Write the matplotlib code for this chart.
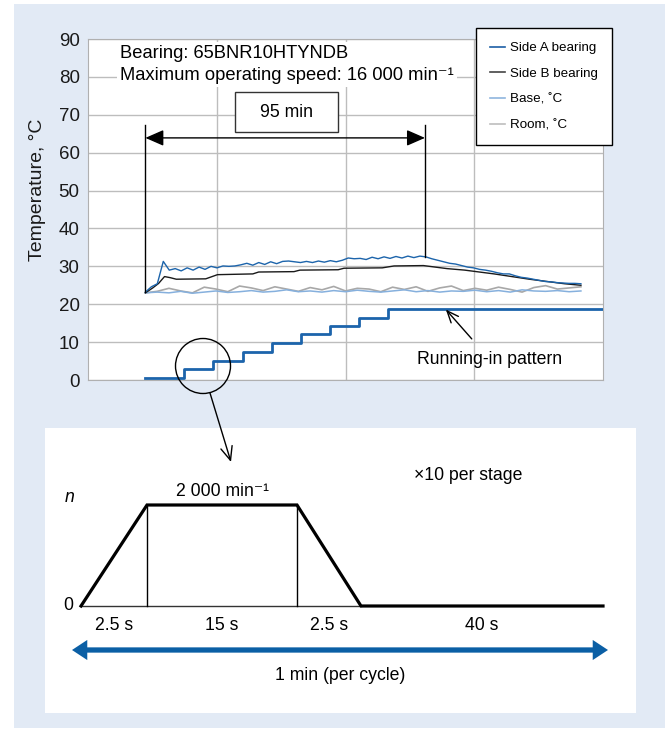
import numpy as np
import matplotlib
matplotlib.use('Agg')
import matplotlib.pyplot as plt
from matplotlib.patches import Rectangle, Circle
from matplotlib.lines import Line2D
from matplotlib.font_manager import FontProperties

plt.rcParams['font.family'] = ['Liberation Sans', 'DejaVu Sans']

# ---------------- data ----------------
side_a_t = np.linspace(19.5, 167.5, 74)
side_a = [23.2, 24.6, 25.4, 31.3, 29.0, 29.4, 28.8, 29.6, 29.0, 29.8,
          29.2, 30.0, 29.6, 30.1, 30.0, 30.1, 30.4, 30.8, 30.3, 31.0,
          30.5, 31.2, 30.7, 31.3, 31.4, 31.2, 31.0, 31.3, 31.0, 31.4,
          31.1, 31.5, 31.2, 31.6, 32.2, 32.0, 32.1, 31.8, 32.4, 32.0,
          32.5, 32.1, 32.6, 32.2, 32.7, 32.3, 32.7, 32.5, 32.0, 31.6,
          31.2, 30.8, 30.6, 30.2, 29.8, 29.6, 29.2, 29.0, 28.7, 28.3,
          28.0, 28.0, 27.5, 27.1, 26.9, 26.6, 26.3, 26.0, 25.9, 25.7,
          25.6, 25.5, 25.5, 25.4]

side_b_t = [19.5, 22, 24, 26, 28, 30, 40, 44, 56, 58, 70, 72, 85, 87,
            100, 104, 114, 118, 122, 128, 132, 138, 144, 150, 156, 162, 167.5]
side_b = [23.0, 24.3, 25.5, 27.3, 27.0, 26.6, 26.7, 27.8, 28.0, 28.5,
          28.6, 29.0, 29.1, 29.5, 29.6, 30.1, 30.2, 29.8, 29.4, 29.0,
          28.6, 28.0, 27.3, 26.6, 26.0, 25.4, 25.0]

env_t = np.linspace(19.5, 167.5, 38)
base = [23.0, 23.2, 23.0, 23.4, 22.9, 23.2, 23.5, 23.1, 23.3, 23.6,
        23.2, 23.4, 23.8, 23.3, 23.5, 23.2, 23.6, 23.3, 23.7, 23.4,
        23.2, 23.5, 23.8, 23.3, 23.6, 23.2, 23.5, 23.4, 23.7, 23.3,
        23.6, 23.2, 23.8, 23.5, 23.4, 23.6, 23.3, 23.5]
room = [23.0, 23.4, 24.2, 23.5, 23.0, 24.5, 24.0, 23.3, 24.8, 24.3,
        23.6, 24.6, 24.0, 23.4, 24.4, 23.8, 24.7, 23.5, 24.2, 24.0,
        23.3, 24.5, 23.9, 24.6, 23.4, 24.3, 24.8, 23.6, 24.2, 23.7,
        24.5, 23.9, 23.2, 24.4, 24.9, 24.0, 24.3, 24.6]

runin_t = [19.5, 32.6, 42.5, 52.7, 62.5, 72.4, 82.2, 92.1, 101.9, 175]
runin = [0.5, 2.8, 5.1, 7.4, 9.8, 12.1, 14.2, 16.4, 18.7, 18.7]

yticks = list(range(0, 91, 10))
series_labels = ['Side A bearing', 'Side B bearing', 'Base, ˚C', 'Room, ˚C']
window_start, window_len = 19.5, 95

phase_labels = ['2.5 s', '15 s', '2.5 s', '40 s']
phase_draw_w = [66, 150, 64, 242]   # schematic (not to scale)
speed_label = '2 000 min⁻¹'

FS = 12.7

# ---------------- figure ----------------
W, H = 669, 731
fig = plt.figure(figsize=(W / 100, H / 100), dpi=100)

bg = fig.add_axes([0, 0, 1, 1], zorder=0)
bg.set_xlim(0, W); bg.set_ylim(H, 0); bg.axis('off')
bg.add_patch(Rectangle((14, 4), 651, 724, facecolor='#e2eaf5', edgecolor='none'))
bg.add_patch(Rectangle((45, 428), 591, 285, facecolor='white', edgecolor='none'))

c_a, c_b, c_base, c_room = '#1c64ab', '#1a1a1a', '#86b0dd', '#a8a8a8'

ax = fig.add_axes([88 / W, 1 - 380 / H, 515 / W, 341 / H], zorder=1)
ax.set_facecolor('white')
ax.set_xlim(0, 175)
ax.set_ylim(0, 90)
ax.set_yticks(yticks)
ax.set_xticks([43.75, 87.5, 131.25])
ax.set_xticklabels([])
ax.tick_params(length=0, labelsize=13.5, pad=6, colors='#1a1a1a')
ax.grid(True, color='#bdbdbd', lw=1)
ax.set_axisbelow(True)
for s in ax.spines.values():
    s.set_color('#b0b0b0')

ax.plot(env_t, room, color=c_room, lw=1.2, zorder=2)
ax.plot(env_t, base, color=c_base, lw=1.1, zorder=2)
ax.plot(side_b_t, side_b, color=c_b, lw=1.0, zorder=3)
ax.plot(side_a_t, side_a, color=c_a, lw=1.0, zorder=4)
ax.plot(runin_t, runin, color='#1c64ab', lw=2.0, drawstyle='steps-post', zorder=4)

ax.text(10.9, 83.3, 'Bearing: 65BNR10HTYNDB\nMaximum operating speed: 16 000 min⁻¹',
        fontsize=13.2, va='center', ha='left', linespacing=1.4, zorder=5,
        bbox=dict(facecolor='white', edgecolor='none', pad=2))

# 95 min window
ax.add_patch(Rectangle((49.9, 65.4), 35.0, 10.6, facecolor='white',
                       edgecolor='#333333', lw=1, zorder=5))
ax.text(67.4, 70.7, '95 min', fontsize=FS, ha='center', va='center', zorder=6)
ax.annotate('', xy=(window_start + window_len, 63.9), xytext=(window_start, 63.9),
            arrowprops=dict(arrowstyle='<|-|>,head_length=0.8,head_width=0.35',
                            color='black', lw=1, shrinkA=0, shrinkB=0,
                            mutation_scale=14), zorder=6)
ax.plot([window_start, window_start], [67.3, side_a[0]], color='black', lw=1, zorder=5)
ax.plot([window_start + window_len] * 2, [67.3, 32.4], color='black', lw=1, zorder=5)

ax.annotate('Running-in pattern', xy=(121.6, 18.6), xytext=(136.6, 5.4),
            fontsize=FS, ha='center', va='center',
            arrowprops=dict(arrowstyle='->,head_length=0.6,head_width=0.25',
                            color='black', lw=1, shrinkA=9, shrinkB=0,
                            mutation_scale=14), zorder=6)

handles = [Line2D([], [], color=c, lw=1.2) for c in ['#1c5fa5', '#444444', '#8fb5de', '#bdbdbd']]
leg = ax.legend(handles, series_labels, loc='upper left',
                bbox_to_anchor=(476 / W, 1 - 28 / H), bbox_transform=fig.transFigure,
                frameon=True, fancybox=False, edgecolor='black', framealpha=1,
                borderpad=1.05, labelspacing=1.0, handlelength=1.1,
                handletextpad=0.4, borderaxespad=0,
                prop=FontProperties(family=['Liberation Sans Narrow', 'Liberation Sans'], size=9.6))
leg.get_frame().set_linewidth(1.0)
leg.set_zorder(10)

fig.text(38 / W, 1 - 190 / H, 'Temperature, °C', rotation=90, fontsize=14,
         ha='center', va='center', color='#1a1a1a')

# ---------------- overlay: zoom circle and cycle schematic ----------------
ov = fig.add_axes([0, 0, 1, 1], zorder=2)
ov.set_xlim(0, W); ov.set_ylim(H, 0); ov.axis('off')

ov.add_patch(Circle((203, 366), 27.5, fill=False, edgecolor='black', lw=1))
ov.annotate('', xy=(231, 462), xytext=(210, 393),
            arrowprops=dict(arrowstyle='->,head_length=0.7,head_width=0.3',
                            color='black', lw=1, shrinkA=0, shrinkB=0,
                            mutation_scale=14))

x0, y0, y1 = 81, 606, 505
xs = np.concatenate([[x0], x0 + np.cumsum(phase_draw_w)])
ov.plot([xs[0], xs[1], xs[2], xs[3], xs[4]], [y0, y1, y1, y0, y0],
        color='black', lw=2.3, solid_joinstyle='miter', zorder=3)
ov.plot([xs[0], xs[3]], [y0, y0], color='#333333', lw=1, zorder=2)
ov.plot([xs[1], xs[1]], [y1, y0], color='black', lw=1)
ov.plot([xs[2], xs[2]], [y1, y0], color='black', lw=1)

ov.text(70, 497, 'n', fontsize=FS, style='italic', ha='center', va='center')
ov.text(68, 605, '0', fontsize=FS, ha='center', va='center')
ov.text((xs[1] + xs[2]) / 2, 491, speed_label, fontsize=FS, ha='center', va='center')
ov.text(468, 475, '×10 per stage', fontsize=FS, ha='center', va='center')
for i, lab in enumerate(phase_labels):
    ov.text((xs[i] + xs[i + 1]) / 2, 625, lab, fontsize=FS, ha='center', va='center')

blue = '#0b5fa5'
mid = (72 + 608) / 2
for end in (72, 608):
    ov.annotate('', xy=(end, 650), xytext=(mid, 650),
                arrowprops=dict(arrowstyle='simple,head_length=1.1,head_width=1.45,tail_width=0.38',
                                color=blue, lw=0, shrinkA=0, shrinkB=0, mutation_scale=10))
ov.text(340, 676, '1 min (per cycle)', fontsize=FS, ha='center', va='center')

fig.savefig('out.png', dpi=100)
